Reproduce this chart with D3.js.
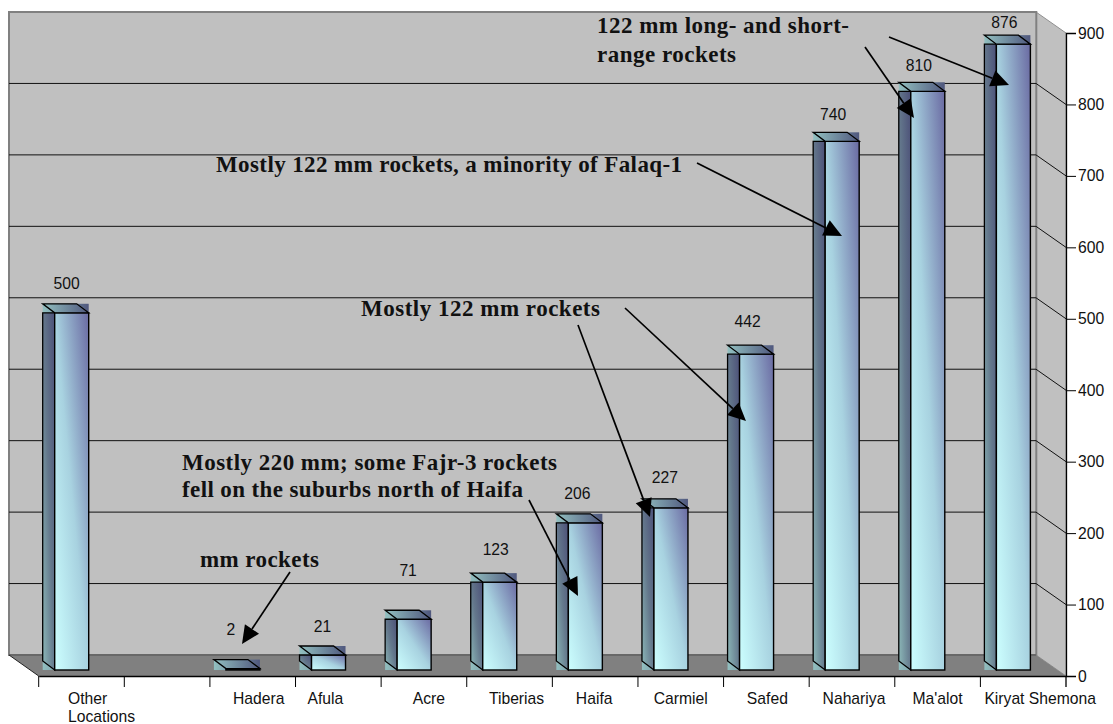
<!DOCTYPE html>
<html>
<head>
<meta charset="utf-8">
<script src="https://cdn.jsdelivr.net/npm/d3@7/dist/d3.min.js"></script>
<style>
  html, body { margin: 0; padding: 0; background: #fff; }
  svg { display: block; }
  text { font-family: "Liberation Sans", Arial, sans-serif; font-size: 15.7px; fill: #111; }
  .note { font-family: "Liberation Serif", "Times New Roman", serif; font-weight: bold; font-size: 23px; }
</style>
</head>
<body>
<svg id="chart" width="1113" height="724"></svg>
<script>
const categories = ["Other Locations", " ", "Hadera", "Afula", "Acre", "Tiberias", "Haifa", "Carmiel", "Safed", "Nahariya", "Ma'alot", "Kiryat Shemona"];
const rocketCounts = [500, null, 2, 21, 71, 123, 206, 227, 442, 740, 810, 876];
const yTicks = [0, 100, 200, 300, 400, 500, 600, 700, 800, 900];

// value labels and category labels were nudged by hand in the original
const labelLift = [24, 0, 34, 23, 43, 27, 24, 25, 27, 21, 20, 16];
const labelShift = [1, 0, -6, 0, 0, 2, -2, 0, -3, -3, -3, -3];
const catShift = [0, 0, 6, -13, 5, 7, -1, 0, 1, 2, 0, 17];

const notes = [
  { lines: ["122 mm long- and short-", "range rockets"], x: 597, y: [33, 62], w: [252, 139] },
  { lines: ["Mostly 122 mm rockets, a minority of Falaq-1"], x: 216, y: [172], w: [466] },
  { lines: ["Mostly 122 mm rockets"], x: 361, y: [316], w: [239] },
  { lines: ["Mostly 220 mm; some Fajr-3 rockets", "fell on the suburbs north of Haifa"], x: 182, y: [470, 497], w: [375, 341] },
  { lines: ["mm rockets"], x: 200, y: [567], w: [119] },
];
const arrows = [
  [889, 37, 1009, 85],
  [865, 47, 914, 118],
  [697, 163, 842, 236],
  [625, 308, 746, 421],
  [578, 325, 650, 517],
  [529, 500, 578, 596],
  [290, 572, 242, 644],
];

const svg = d3.select("#chart");
const plotL = 38.7, plotR = 1066, plotT = 33, plotB = 676;
// offset of the back wall from the front plane
const wallX = 30, wallY = 21;
// bar box: sits inside the floor, with its own small depth
const depthX = 12, depthY = 9, floorGap = 6, barStart = 16, barW = 34;

const x = d3.scaleBand().domain(categories).range([plotL, plotR]).padding(0);
const y = d3.scaleLinear().domain([0, 900]).range([plotB, plotT]);

const defs = svg.append("defs");
function gradient(id, x2, y1, stops) {
  const g = defs.append("linearGradient").attr("id", id)
    .attr("x1", 0).attr("y1", y1).attr("x2", x2).attr("y2", 0);
  stops.forEach((s) => g.append("stop").attr("offset", s[0]).attr("stop-color", s[1]));
}
gradient("frontFill", 1, 1, [[0, "#ccffff"], [0.5, "#a8d2e0"], [1, "#6a6aa2"]]);
gradient("sideFill", 1, 1, [[0, "#8cb8b8"], [0.5, "#64788c"], [1, "#4c5078"]]);
gradient("topFill", 1, 0, [[0, "#92c0c0"], [1, "#50587e"]]);

const wall = svg.append("g");
const backL = plotL - wallX + 0.3;
wall.append("path")
  .attr("d", d3.line()([[plotR - wallX, plotT - wallY], [plotR, plotT], [plotR, plotB], [plotR - wallX, plotB - wallY]]) + "Z")
  .attr("fill", "#c0c0c0").attr("stroke", "#909090").attr("stroke-width", 1);
wall.append("rect")
  .attr("x", backL).attr("y", plotT - wallY)
  .attr("width", plotR - plotL).attr("height", plotB - plotT)
  .attr("fill", "#c0c0c0").attr("stroke", "#808080").attr("stroke-width", 2);
wall.append("path")
  .attr("d", d3.line()([[backL, plotB - wallY], [plotR - wallX, plotB - wallY], [plotR, plotB], [plotL, plotB]]) + "Z")
  .attr("fill", "#808080");
wall.append("path")
  .attr("d", d3.line()([[backL, plotB - wallY], [plotR - wallX, plotB - wallY]]))
  .attr("stroke", "#606060").attr("stroke-width", 1.5).attr("fill", "none");
wall.append("path")
  .attr("d", d3.line()([[backL, plotB - wallY], [plotL, plotB]]))
  .attr("stroke", "#222").attr("stroke-width", 1).attr("fill", "none");

// gridlines on the back wall, running down the side wall to the axis
wall.selectAll(".grid")
  .data(yTicks.filter((d) => d > 0 && d < 900))
  .enter()
  .append("path")
  .attr("class", "grid")
  .attr("fill", "none")
  .attr("stroke", "#111")
  .attr("stroke-width", 1)
  .attr("d", (d) => d3.line()([[backL, y(d) - wallY], [plotR - wallX, y(d) - wallY], [plotR, y(d)]]));

// axes
const yAxis = svg.append("g")
  .attr("transform", `translate(${plotR},0)`)
  .call(d3.axisRight(y).tickValues(yTicks).tickSize(10).tickPadding(2));
yAxis.selectAll("line").attr("stroke", "#000");
yAxis.select(".domain").attr("stroke", "#000").attr("stroke-width", 1.3);

const xAxis = svg.append("g")
  .attr("transform", `translate(0,${plotB})`)
  .call(d3.axisBottom(x).tickSize(0).tickPadding(17));
xAxis.select(".domain").attr("stroke", "#000").attr("stroke-width", 1.3);
xAxis.selectAll(".tick text")
  .attr("dx", (d, i) => catShift[i])
  .each(function (d) {
    if (d !== "Other Locations") return;
    const t = d3.select(this).text(null).attr("text-anchor", "start");
    t.append("tspan").attr("x", 68 - x(d) - x.bandwidth() / 2).text("Other");
    t.append("tspan").attr("x", 68 - x(d) - x.bandwidth() / 2).attr("dy", 18).text("Locations");
  });

svg.append("g").selectAll("line")
  .data(categories)
  .enter()
  .append("line")
  .attr("x1", (d) => x(d)).attr("x2", (d) => x(d))
  .attr("y1", plotB).attr("y2", plotB + 11)
  .attr("stroke", "#000");
svg.append("line")
  .attr("x1", plotR).attr("x2", plotR)
  .attr("y1", plotB).attr("y2", plotB + 11)
  .attr("stroke", "#000").attr("stroke-width", 1.3);

// bars
const rows = categories
  .map((c, i) => ({ c, v: rocketCounts[i], i }))
  .filter((d) => d.v !== null);

const bars = svg.append("g").selectAll("g")
  .data(rows)
  .enter()
  .append("g")
  .attr("transform", (d) => `translate(${x(d.c) + barStart},0)`);

const barTop = (d) => y(d.v) - floorGap;
const barBase = plotB - floorGap;

bars.append("rect")
  .attr("x", -depthX).attr("y", (d) => barTop(d) - depthY)
  .attr("width", barW + depthX).attr("height", (d) => barBase - barTop(d) + depthY)
  .attr("fill", "url(#topFill)");
bars.filter((d) => barBase - barTop(d) > depthY)
  .append("path")
  .attr("d", (d) => d3.line()([[-depthX, barTop(d)], [0, barTop(d)], [0, barBase], [-depthX, barBase - depthY]]) + "Z")
  .attr("fill", "url(#sideFill)")
  .attr("stroke", "#000").attr("stroke-width", 1.3);
bars.append("rect")
  .attr("x", 0).attr("y", barTop)
  .attr("width", barW).attr("height", (d) => barBase - barTop(d))
  .attr("fill", "url(#frontFill)")
  .attr("stroke", "#000").attr("stroke-width", 1.4);
bars.append("path")
  .attr("d", (d) => d3.line()([[-depthX, barTop(d) - depthY], [barW - depthX, barTop(d) - depthY], [barW, barTop(d)], [0, barTop(d)]]) + "Z")
  .attr("fill", "url(#topFill)")
  .attr("stroke", "#000").attr("stroke-width", 1.3);

bars.append("text")
  .attr("x", (d) => (barW - depthX) / 2 + labelShift[d.i])
  .attr("y", (d) => barTop(d) - labelLift[d.i])
  .attr("text-anchor", "middle")
  .text((d) => d.v);

// callouts
const noteG = svg.append("g");
notes.forEach((n) => {
  n.lines.forEach((line, i) => {
    noteG.append("text")
      .attr("class", "note")
      .attr("x", n.x).attr("y", n.y[i])
      .attr("textLength", n.w[i]).attr("lengthAdjust", "spacing")
      .text(line);
  });
});

const headLen = 18, headHalf = 8.5;
arrows.forEach(([x1, y1, x2, y2]) => {
  const a = Math.atan2(y2 - y1, x2 - x1);
  const bx = x2 - headLen * Math.cos(a), by = y2 - headLen * Math.sin(a);
  const nx = -Math.sin(a) * headHalf, ny = Math.cos(a) * headHalf;
  noteG.append("line")
    .attr("x1", x1).attr("y1", y1).attr("x2", bx).attr("y2", by)
    .attr("stroke", "#000").attr("stroke-width", 1.7);
  noteG.append("path")
    .attr("d", d3.line()([[x2, y2], [bx + nx, by + ny], [bx - nx, by - ny]]) + "Z")
    .attr("fill", "#000");
});
</script>
</body>
</html>
